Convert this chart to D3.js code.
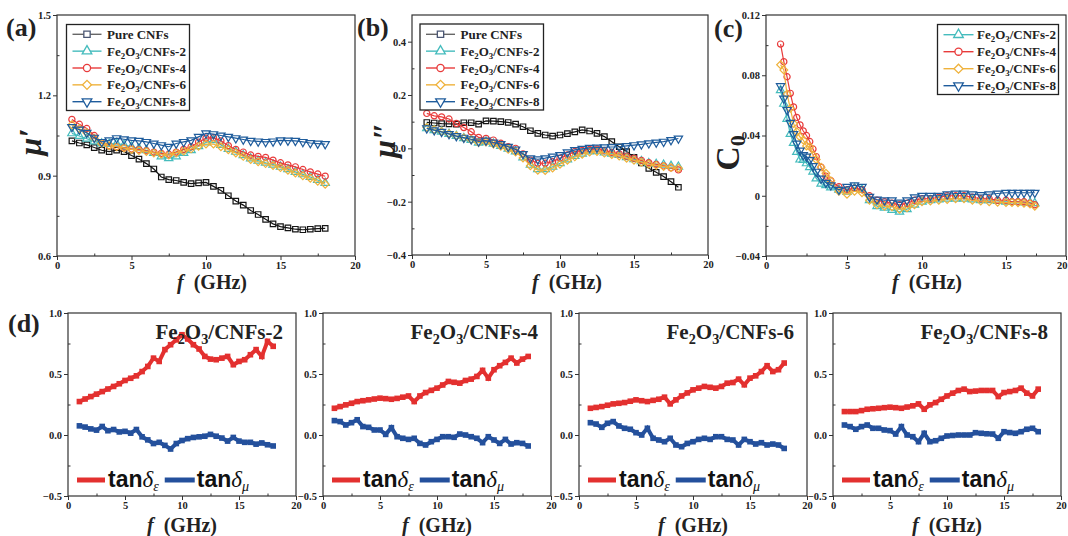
<!DOCTYPE html>
<html>
<head>
<meta charset="utf-8">
<script src="https://cdn.jsdelivr.net/npm/d3@7"></script>
<style>
body { margin: 0; background: #fff; }
</style>
</head>
<body>
<script>
// frequency grids (GHz)
var freq = [1,1.5,2,2.5,3,3.5,4,4.5,5,5.5,6,6.5,7,7.5,8,8.5,9,9.5,10,10.5,11,11.5,12,12.5,13,13.5,14,14.5,15,15.5,16,16.5,17,17.5,18];
var c0Freq = [0.9,1.1,1.3,1.5,1.7,1.9,2.1,2.3,2.5,2.7,2.9,3.1,3.4,3.7,4.0,4.5,5.0,5.5,6.0,6.5,7.0,7.5,8.0,8.5,9.0,9.5,10,10.5,11,11.5,12,12.5,13,13.5,14,14.5,15,15.5,16,16.5,17,17.4];

var sampleNames = ["Pure CNFs","Fe2O3/CNFs-2","Fe2O3/CNFs-4","Fe2O3/CNFs-6","Fe2O3/CNFs-8"];

// (a) mu'
var muRealPure = [1.030,1.022,1.015,1.005,0.995,0.990,0.995,0.990,0.975,0.962,0.945,0.925,0.895,0.885,0.882,0.875,0.870,0.873,0.875,0.860,0.845,0.825,0.805,0.790,0.770,0.755,0.737,0.720,0.710,0.705,0.700,0.698,0.700,0.702,0.703];
var muReal2 = [1.058,1.048,1.038,1.028,1.020,1.018,1.020,1.015,1.008,1.002,0.995,0.985,0.972,0.965,0.972,0.985,0.995,1.010,1.024,1.032,1.015,1.000,0.989,0.976,0.964,0.956,0.948,0.941,0.933,0.924,0.914,0.905,0.895,0.884,0.873];
var muReal4 = [1.110,1.092,1.076,1.050,1.022,1.012,1.008,1.004,1.000,0.997,0.993,0.988,0.983,0.980,0.988,0.998,1.008,1.025,1.040,1.042,1.030,1.012,0.998,0.988,0.977,0.972,0.968,0.958,0.948,0.940,0.933,0.923,0.914,0.906,0.898];
var muReal6 = [1.090,1.075,1.060,1.040,1.020,1.012,1.008,1.003,0.998,0.994,0.990,0.985,0.980,0.977,0.985,0.992,1.000,1.010,1.018,1.018,1.008,0.997,0.985,0.972,0.960,0.952,0.945,0.938,0.930,0.920,0.910,0.900,0.890,0.879,0.868];
var muReal8 = [1.082,1.072,1.060,1.042,1.026,1.032,1.040,1.036,1.032,1.030,1.026,1.020,1.014,1.008,1.020,1.026,1.032,1.045,1.058,1.055,1.050,1.045,1.040,1.035,1.030,1.028,1.026,1.028,1.032,1.031,1.030,1.026,1.022,1.020,1.018];

// (b) mu''
var muImagPure = [0.097,0.095,0.093,0.092,0.091,0.096,0.096,0.091,0.103,0.102,0.100,0.097,0.091,0.081,0.066,0.056,0.050,0.046,0.050,0.055,0.062,0.069,0.065,0.056,0.044,0.025,0.006,-0.012,-0.034,-0.055,-0.075,-0.090,-0.106,-0.125,-0.146];
var muImag2 = [0.075,0.068,0.062,0.054,0.046,0.038,0.031,0.021,0.025,0.017,0.009,-0.002,-0.012,-0.034,-0.062,-0.078,-0.078,-0.069,-0.056,-0.042,-0.029,-0.020,-0.012,-0.010,-0.016,-0.020,-0.025,-0.033,-0.041,-0.048,-0.056,-0.059,-0.062,-0.066,-0.069];
var muImag4 = [0.131,0.122,0.118,0.110,0.093,0.078,0.062,0.041,0.037,0.031,0.019,0.006,0.000,-0.021,-0.044,-0.056,-0.056,-0.050,-0.037,-0.025,-0.012,-0.008,-0.004,-0.002,-0.009,-0.015,-0.021,-0.029,-0.037,-0.045,-0.054,-0.060,-0.066,-0.073,-0.081];
var muImag6 = [0.078,0.070,0.063,0.055,0.047,0.039,0.032,0.022,0.024,0.016,0.008,-0.004,-0.014,-0.036,-0.065,-0.082,-0.083,-0.074,-0.060,-0.045,-0.032,-0.022,-0.014,-0.012,-0.018,-0.023,-0.029,-0.037,-0.045,-0.052,-0.060,-0.064,-0.068,-0.072,-0.075];
var muImag8 = [0.075,0.068,0.062,0.054,0.046,0.040,0.034,0.026,0.029,0.022,0.016,0.006,-0.004,-0.021,-0.037,-0.041,-0.037,-0.031,-0.025,-0.015,-0.006,-0.002,0.002,0.003,0.004,0.005,0.006,0.009,0.012,0.015,0.019,0.022,0.025,0.031,0.037];

// (c) C0
var c0_2 = [0.070,0.061,0.051,0.041,0.035,0.029,0.024,0.0237,0.0215,0.019,0.016,0.0115,0.008,0.007,0.0055,0.004,0.0027,0.005,0.004,-0.003,-0.007,-0.008,-0.0095,-0.0106,-0.009,-0.006,-0.004,-0.003,-0.0025,-0.002,-0.002,-0.002,-0.0025,-0.003,-0.003,-0.0035,-0.004,-0.004,-0.004,-0.0045,-0.0046,-0.005];
var c0_4 = [0.1007,0.089,0.079,0.068,0.059,0.052,0.047,0.043,0.040,0.036,0.031,0.026,0.019,0.013,0.010,0.006,0.004,0.005,0.004,0.000,-0.003,-0.004,-0.005,-0.006,-0.005,-0.003,-0.002,-0.002,-0.001,0.000,0.000,0.000,-0.001,-0.002,-0.002,-0.003,-0.003,-0.004,-0.004,-0.004,-0.005,-0.006];
var c0_6 = [0.087,0.0835,0.0675,0.058,0.048,0.0425,0.039,0.037,0.033,0.0325,0.027,0.024,0.019,0.015,0.010,0.003,0.001,0.003,0.002,-0.003,-0.006,-0.007,-0.0073,-0.009,-0.008,-0.006,-0.004,-0.0035,-0.003,-0.0025,-0.002,-0.002,-0.003,-0.0035,-0.004,-0.0043,-0.0045,-0.0045,-0.0046,-0.005,-0.0055,-0.007];
var c0_8 = [0.0728,0.0646,0.057,0.0485,0.041,0.0347,0.030,0.027,0.026,0.0237,0.0197,0.016,0.0115,0.0086,0.007,0.004,0.006,0.007,0.006,-0.0007,-0.0025,-0.003,-0.003,-0.0045,-0.003,-0.001,0.000,0.000,0.000,0.001,0.0015,0.0015,0.001,0.0005,0.001,0.0015,0.002,0.002,0.002,0.002,0.002,0.002];

// (d) loss tangents
var tanE2 = [0.274,0.295,0.315,0.335,0.356,0.377,0.398,0.420,0.447,0.465,0.485,0.520,0.562,0.630,0.603,0.700,0.740,0.780,0.822,0.787,0.740,0.705,0.644,0.622,0.617,0.630,0.644,0.576,0.603,0.617,0.658,0.700,0.644,0.768,0.727];
var tanM2 = [0.075,0.065,0.050,0.040,0.070,0.035,0.045,0.025,0.030,0.015,0.045,-0.015,-0.040,-0.070,-0.060,-0.085,-0.115,-0.070,-0.045,-0.030,-0.020,-0.015,-0.010,0.005,-0.010,-0.025,-0.050,-0.020,-0.050,-0.060,-0.060,-0.075,-0.065,-0.080,-0.090];
var tanE4 = [0.219,0.233,0.247,0.260,0.274,0.281,0.288,0.295,0.302,0.298,0.293,0.300,0.310,0.320,0.274,0.320,0.348,0.366,0.384,0.410,0.439,0.432,0.425,0.447,0.458,0.480,0.530,0.466,0.535,0.568,0.595,0.630,0.590,0.622,0.644];
var tanM4 = [0.118,0.110,0.082,0.101,0.125,0.069,0.063,0.041,0.041,0.005,0.060,-0.014,-0.027,-0.036,-0.027,-0.069,-0.082,-0.055,-0.036,-0.014,-0.014,-0.019,0.008,0.000,-0.014,-0.027,-0.063,-0.014,-0.041,-0.069,-0.036,-0.074,-0.063,-0.069,-0.090];
var tanE6 = [0.219,0.226,0.233,0.244,0.255,0.260,0.266,0.277,0.288,0.281,0.274,0.284,0.293,0.310,0.255,0.288,0.320,0.345,0.370,0.384,0.398,0.391,0.384,0.398,0.425,0.430,0.458,0.411,0.466,0.485,0.520,0.568,0.520,0.535,0.590];
var tanM6 = [0.101,0.090,0.063,0.096,0.110,0.074,0.055,0.047,0.019,0.000,0.055,-0.027,-0.041,-0.055,-0.027,-0.082,-0.096,-0.069,-0.055,-0.036,-0.027,-0.036,-0.014,-0.014,-0.036,-0.041,-0.082,-0.036,-0.055,-0.074,-0.063,-0.082,-0.074,-0.082,-0.110];
var tanE8 = [0.192,0.192,0.192,0.200,0.211,0.215,0.219,0.224,0.228,0.224,0.219,0.229,0.239,0.255,0.211,0.247,0.266,0.293,0.320,0.343,0.365,0.376,0.356,0.360,0.365,0.365,0.365,0.315,0.348,0.356,0.365,0.384,0.343,0.320,0.376];
var tanM8 = [0.082,0.069,0.047,0.069,0.082,0.055,0.055,0.041,0.036,0.008,0.069,0.000,-0.014,-0.055,0.014,-0.055,-0.047,-0.027,-0.008,-0.004,0.000,0.000,0.000,0.019,0.014,0.010,0.008,-0.027,0.027,0.020,0.014,0.027,0.047,0.055,0.027];

var serif = '"Times New Roman","Liberation Serif",serif';
var sans = 'Arial,"Liberation Sans",sans-serif';

var colPure = "#151515", colC2 = "#45bcbd", colC4 = "#e83b3b", colC6 = "#efb23c", colC8 = "#1f5c9c";
var colTanE = "#e3302f", colTanM = "#24509c";

var svg = d3.select("body").append("svg")
            .attr("width", 1068)
            .attr("height", 536);

function markerPath(kind, size){
  var t = (kind == "circle") ? d3.symbolCircle : (kind == "tri" || kind == "down") ? d3.symbolTriangle : d3.symbolSquare;
  return d3.symbol().type(t).size(size)();
}
function markerRot(kind){
  if(kind == "diamond") return 45;
  if(kind == "down") return 180;
  return 0;
}

// Fe2O3 -> subscripted tspans
function chemText(text, label, fs){
  var parts = label.split(/(?<=[A-Za-z])(\d)(?=[A-Z\/])/);
  parts.forEach(function(p, i){
    var ts = text.append("tspan").text(p);
    if(i % 2 == 1) ts.attr("font-size", fs*0.68).attr("dy", fs*0.22);
    else if(i > 0) ts.attr("dy", -fs*0.22);
  });
}

function axes(g, x, y, o){
  var xr = x.range(), x0 = xr[0], x1 = xr[xr.length-1];
  var yb = y.range()[0], yt = y.range()[1];
  g.append("g").attr("class","ax xax").attr("transform","translate(0,"+yb+")")
    .call(d3.axisBottom(x).tickValues(o.xt).tickSize(4).tickPadding(2).tickFormat(d3.format("d")));
  g.append("g").attr("class","ax").attr("transform","translate(0,"+yb+")")
    .call(d3.axisBottom(x).tickValues(o.xm).tickSize(-2.5).tickFormat(""));
  g.append("g").attr("class","ax").attr("transform","translate("+x0+",0)")
    .call(d3.axisLeft(y).tickValues(o.yt).tickSize(4).tickPadding(2).tickFormat(o.fmt));
  g.append("g").attr("class","ax").attr("transform","translate("+x0+",0)")
    .call(d3.axisLeft(y).tickValues(o.ym).tickSize(-2.5).tickFormat(""));
  g.selectAll(".ax .domain").remove();
  g.selectAll(".ax text")
    .attr("font-family", serif).attr("font-weight","bold")
    .attr("font-size", 10.5).attr("fill","#222");
  g.selectAll(".ax line").attr("stroke","#333");
  // keep the last label inside the page when the frame touches the edge
  if(o.clipLast){
    g.select(".xax").selectAll(".tick:last-of-type text").attr("text-anchor","end").attr("x", 1);
  }
  g.append("rect")
    .attr("x", x0).attr("y", yt)
    .attr("width", x1 - x0).attr("height", yb - yt)
    .attr("fill","none").attr("stroke","#333").attr("stroke-width",1.2);
}

function xTitle(cx, cy, fs){
  var t = svg.append("text").attr("x", cx).attr("y", cy)
    .attr("text-anchor","middle").attr("font-family", serif)
    .attr("font-weight","bold").attr("font-size", fs).attr("fill","#222");
  t.append("tspan").attr("font-style","italic").text("f");
  t.append("tspan").text("\u2002(GHz)");
}

function panelLabel(x, y, s){
  svg.append("text").attr("x", x).attr("y", y)
    .attr("font-family", serif).attr("font-weight","bold")
    .attr("font-size", 26).attr("fill","#222").text(s);
}

function topPanel(p){
  var g = svg.append("g");
  axes(g, p.x, p.y, p);
  var line = d3.line().x(function(d){ return p.x(d[0]); }).y(function(d){ return p.y(d[1]); });
  p.series.forEach(function(s){
    var pts = s.vals.map(function(v, i){ return [p.freq[i], v]; });
    g.append("path").datum(pts)
      .attr("d", line).attr("fill","none")
      .attr("stroke", s.color).attr("stroke-width", 1.2);
    g.selectAll(null).data(pts).enter().append("path")
      .attr("d", markerPath(s.mk, 30))
      .attr("transform", function(d){ return "translate("+p.x(d[0])+","+p.y(d[1])+") rotate("+markerRot(s.mk)+")"; })
      .attr("fill","none").attr("stroke", s.color).attr("stroke-width", 1.2);
  });

  // legend
  var L = p.legend;
  var lg = svg.append("g");
  lg.append("rect").attr("x", L.x0).attr("y", L.y0)
    .attr("width", L.x1 - L.x0).attr("height", L.y1 - L.y0)
    .attr("fill","#fff").attr("stroke","#222").attr("stroke-width",1.3);
  p.series.forEach(function(s, i){
    var ry = L.ry + i*L.step;
    var lc = s.legendColor || s.color;
    lg.append("line").attr("x1", L.lx0).attr("x2", L.lx1).attr("y1", ry).attr("y2", ry)
      .attr("stroke", lc).attr("stroke-width", 1.4);
    lg.append("path").attr("d", markerPath(s.mk, 40))
      .attr("transform","translate("+((L.lx0+L.lx1)/2)+","+ry+") rotate("+markerRot(s.mk)+")")
      .attr("fill","#fff").attr("stroke", s.markColor || s.color).attr("stroke-width",1.3);
    var t = lg.append("text").attr("x", L.tx).attr("y", ry + 4.5)
      .attr("font-family", serif).attr("font-weight","bold")
      .attr("font-size", 13).attr("fill","#222");
    chemText(t, s.name, 13);
  });
}

// ---------- (a) ----------
topPanel({
  x: d3.scaleLinear().domain([0,20]).range([57,355]),
  y: d3.scaleLinear().domain([0.6,1.5]).range([256,15]),
  xt: [0,5,10,15,20], xm: [2.5,7.5,12.5,17.5],
  yt: [0.6,0.9,1.2,1.5], ym: [0.75,1.05,1.35],
  fmt: d3.format(".1f"), freq: freq,
  series: [
    {name: sampleNames[0], vals: muRealPure, color: colPure, legendColor: "#666", markColor: "#4a5673", mk: "square"},
    {name: sampleNames[1], vals: muReal2, color: colC2, mk: "tri"},
    {name: sampleNames[2], vals: muReal4, color: colC4, mk: "circle"},
    {name: sampleNames[3], vals: muReal6, color: colC6, mk: "diamond"},
    {name: sampleNames[4], vals: muReal8, color: colC8, mk: "down"}
  ],
  legend: {x0: 66.5, x1: 189.5, y0: 24.5, y1: 110.5, ry: 34.3, step: 16.85, lx0: 72.5, lx1: 101.5, tx: 107}
});

// ---------- (b) ----------
topPanel({
  x: d3.scaleLinear().domain([0,20]).range([412,708]),
  y: d3.scaleLinear().domain([-0.4,0.5]).range([255,15]),
  xt: [0,5,10,15,20], xm: [2.5,7.5,12.5,17.5],
  yt: [-0.4,-0.2,0,0.2,0.4], ym: [-0.3,-0.1,0.1,0.3],
  fmt: d3.format(".1f"), freq: freq,
  series: [
    {name: sampleNames[0], vals: muImagPure, color: colPure, legendColor: "#666", markColor: "#4a5673", mk: "square"},
    {name: sampleNames[1], vals: muImag2, color: colC2, mk: "tri"},
    {name: sampleNames[2], vals: muImag4, color: colC4, mk: "circle"},
    {name: sampleNames[3], vals: muImag6, color: colC6, mk: "diamond"},
    {name: sampleNames[4], vals: muImag8, color: colC8, mk: "down"}
  ],
  legend: {x0: 420, x1: 543.5, y0: 24, y1: 110, ry: 34.3, step: 16.85, lx0: 426, lx1: 455, tx: 460.5}
});

// ---------- (c) ----------
topPanel({
  x: d3.scaleLinear().domain([0,5,10,15,20]).range([766,847,922,1006,1066]),
  y: d3.scaleLinear().domain([-0.04,0.12]).range([256,15]),
  xt: [0,5,10,15,20], xm: [2.5,7.5,12.5,17.5],
  yt: [-0.04,0,0.04,0.08,0.12], ym: [-0.02,0.02,0.06,0.10],
  fmt: function(v){ return v == 0 ? "0" : d3.format(".2f")(v); }, freq: c0Freq,
  clipLast: true,
  series: [
    {name: sampleNames[1], vals: c0_2, color: colC2, mk: "tri"},
    {name: sampleNames[2], vals: c0_4, color: colC4, mk: "circle"},
    {name: sampleNames[3], vals: c0_6, color: colC6, mk: "diamond"},
    {name: sampleNames[4], vals: c0_8, color: colC8, mk: "down"}
  ],
  legend: {x0: 937.5, x1: 1058.5, y0: 24.5, y1: 94.5, ry: 34.7, step: 17, lx0: 943.5, lx1: 973.5, tx: 977}
});

panelLabel(6, 36, "(a)");
panelLabel(357, 36, "(b)");
panelLabel(714, 37, "(c)");
panelLabel(8, 332, "(d)");

xTitle(212, 289, 20);
xTitle(567, 289, 20);
xTitle(927, 289, 20);

// y titles
function yTitle(cx, cy){
  return svg.append("text")
    .attr("transform","translate("+cx+","+cy+") rotate(-90)")
    .attr("text-anchor","middle").attr("font-family", serif)
    .attr("font-weight","bold").attr("fill","#222");
}
yTitle(41, 142).attr("font-size", 32).attr("font-style","italic").text("\u03bc\u2032");
yTitle(395, 140).attr("font-size", 32).attr("font-style","italic").text("\u03bc\u2033");
var cT = yTitle(739, 153).attr("font-size", 34);
cT.append("tspan").text("C");
cT.append("tspan").attr("font-size", 22).attr("dy", 6).text("0");

// ---------- (d) ----------
var dLefts = [68, 323, 579, 833];
var dData = [[tanE2, tanM2, sampleNames[1]], [tanE4, tanM4, sampleNames[2]],
             [tanE6, tanM6, sampleNames[3]], [tanE8, tanM8, sampleNames[4]]];

dData.forEach(function(d, k){
  var left = dLefts[k], right = left + 228;
  var x = d3.scaleLinear().domain([0,20]).range([left, right]);
  var y = d3.scaleLinear().domain([-0.5,1.0]).range([496,313]);
  var g = svg.append("g");
  axes(g, x, y, {
    xt: [0,5,10,15,20], xm: [2.5,7.5,12.5,17.5],
    yt: [-0.5,0,0.5,1.0], ym: [-0.25,0.25,0.75],
    fmt: d3.format(".1f")
  });
  var line = d3.line().x(function(p){ return x(p[0]); }).y(function(p){ return y(p[1]); });
  [[d[0], colTanE], [d[1], colTanM]].forEach(function(s){
    var pts = s[0].map(function(v, i){ return [freq[i], v]; });
    g.append("path").datum(pts).attr("d", line)
      .attr("fill","none").attr("stroke", s[1]).attr("stroke-width", 4);
    g.selectAll(null).data(pts).enter().append("rect")
      .attr("x", function(p){ return x(p[0]) - 2.8; })
      .attr("y", function(p){ return y(p[1]) - 2.8; })
      .attr("width", 5.6).attr("height", 5.6).attr("fill", s[1]);
  });

  // sample title
  var t = svg.append("text").attr("x", right - 13).attr("y", 339)
    .attr("text-anchor","end").attr("font-family", serif)
    .attr("font-weight","bold").attr("font-size", 21).attr("fill","#222");
  chemText(t, d[2], 21);

  // legend
  var lx = left + 9, ly = 480;
  svg.append("line").attr("x1", lx).attr("x2", lx + 28).attr("y1", ly).attr("y2", ly)
    .attr("stroke", colTanE).attr("stroke-width", 5);
  var t1 = svg.append("text").attr("x", lx + 31).attr("y", ly + 7).attr("fill","#111");
  t1.append("tspan").attr("font-family", sans).attr("font-weight","bold").attr("font-size", 23).text("tan");
  t1.append("tspan").attr("font-family", serif).attr("font-style","italic").attr("font-size", 23).text("\u03b4");
  t1.append("tspan").attr("font-family", serif).attr("font-style","italic").attr("font-size", 14).attr("dy", 4).text("\u03b5");
  var bx = lx + 31 + t1.node().getComputedTextLength() + 6;
  svg.append("line").attr("x1", bx).attr("x2", bx + 30).attr("y1", ly).attr("y2", ly)
    .attr("stroke", colTanM).attr("stroke-width", 5);
  var t2 = svg.append("text").attr("x", bx + 32).attr("y", ly + 7).attr("fill","#111");
  t2.append("tspan").attr("font-family", sans).attr("font-weight","bold").attr("font-size", 23).text("tan");
  t2.append("tspan").attr("font-family", serif).attr("font-style","italic").attr("font-size", 23).text("\u03b4");
  t2.append("tspan").attr("font-family", serif).attr("font-style","italic").attr("font-size", 14).attr("dy", 4).text("\u03bc");

  xTitle(left + 114, 532, 20);
});
</script>
</body>
</html>
